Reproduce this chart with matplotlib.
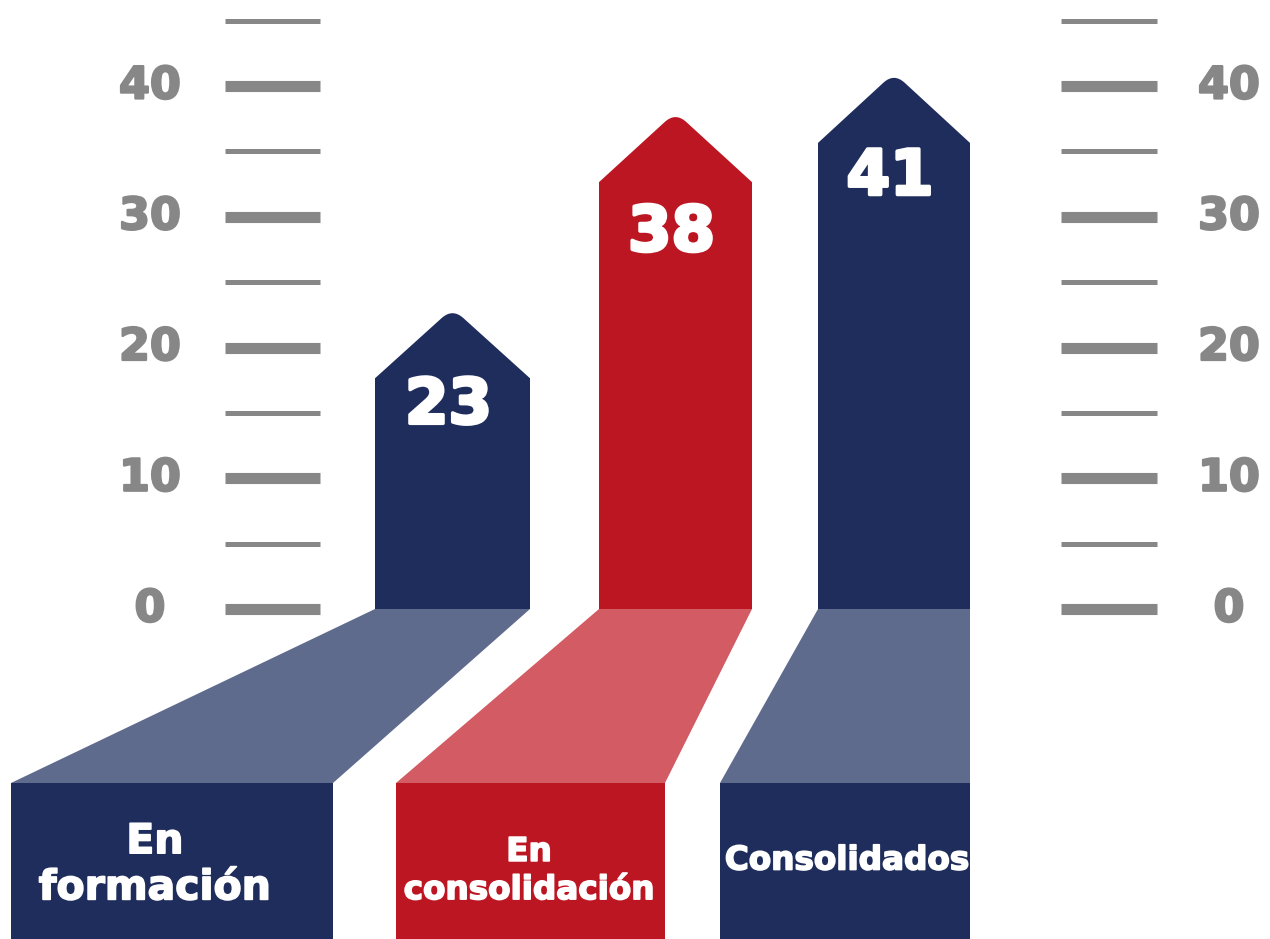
import matplotlib.pyplot as plt
import matplotlib.patheffects as pe
from matplotlib.patches import Polygon, PathPatch, Rectangle
from matplotlib.path import Path

categories = ['En\nformación', 'En\nconsolidación', 'Consolidados']
values = [23, 38, 41]
major_ticks = [0, 10, 20, 30, 40]
minor_ticks = [5, 15, 25, 35, 45]

navy = '#1f2d5c'
red = '#bc1622'
grey = '#878787'
bar_colors = [navy, red, navy]
floor_colors = ['#5f6b8d', '#d35c64', '#5f6b8d']

# layout: x in pixels, y in data units (0 at the floor line)
px = 13.075                      # pixels per unit
ylo, yhi = -330 / px, 609 / px
bar_x = [(375, 530), (599, 752), (818, 970)]
box_x = [(11, 333), (396, 665), (720, 970)]
floor_y = -174 / px
tip_h = 70 / px
num_drop = [7.5, 9.3, 8.0]
label_x = [155, 529, 847]
label_y = [-19.6, -20.0, -19.2]
label_size = [29.5, 23.5, 23.5]
font = 'DejaVu Sans'


def heavy(color, w):
    return [pe.Stroke(linewidth=w, foreground=color), pe.Normal()]


fig = plt.figure(figsize=(12.7, 9.39), dpi=100)
ax = fig.add_axes([0, 0, 1, 1])
ax.set_xlim(0, 1270)
ax.set_ylim(ylo, yhi)
ax.axis('off')

# scale ticks both sides
for x0, x1, lx in [(225, 320, 150), (1061, 1157, 1229)]:
    ax.hlines(major_ticks, x0, x1, color=grey, lw=8)
    ax.hlines(minor_ticks, x0, x1, color=grey, lw=3.6)
    for t in major_ticks:
        ax.text(lx, t, str(t), ha='center', va='center', color=grey,
                fontsize=32, fontweight='bold', family=font,
                path_effects=heavy(grey, 1.6))


def arrow(x0, x1, v, color):
    xm = (x0 + x1) / 2
    sh = v - tip_h
    f = 0.14
    a = (xm - (xm - x0) * f, v - tip_h * f)
    b = (xm + (x1 - xm) * f, v - tip_h * f)
    verts = [(x0, 0), (x0, sh), a, (xm, v), b, (x1, sh), (x1, 0), (x0, 0)]
    codes = [Path.MOVETO, Path.LINETO, Path.LINETO, Path.CURVE3, Path.CURVE3,
             Path.LINETO, Path.LINETO, Path.CLOSEPOLY]
    ax.add_patch(PathPatch(Path(verts, codes), fc=color, ec='none'))


for i, v in enumerate(values):
    (x0, x1), (b0, b1) = bar_x[i], box_x[i]
    arrow(x0, x1, v, bar_colors[i])
    ax.text((x0 + x1) / 2 - 4, v - num_drop[i], str(v), ha='center',
            va='center', color='white', fontsize=45, fontweight='bold',
            family=font, path_effects=heavy('white', 2.5))
    ax.add_patch(Polygon([(x0, 0), (x1, 0), (b1, floor_y), (b0, floor_y)],
                         closed=True, fc=floor_colors[i], ec='none'))
    ax.add_patch(Rectangle((b0, ylo), b1 - b0, floor_y - ylo,
                           fc=bar_colors[i], ec='none'))
    ax.text(label_x[i], label_y[i], categories[i], ha='center', va='center',
            multialignment='center', color='white', fontsize=label_size[i],
            fontweight='bold', family=font, linespacing=1.2,
            path_effects=heavy('white', 1.2))

fig.savefig('out.png', dpi=100)
